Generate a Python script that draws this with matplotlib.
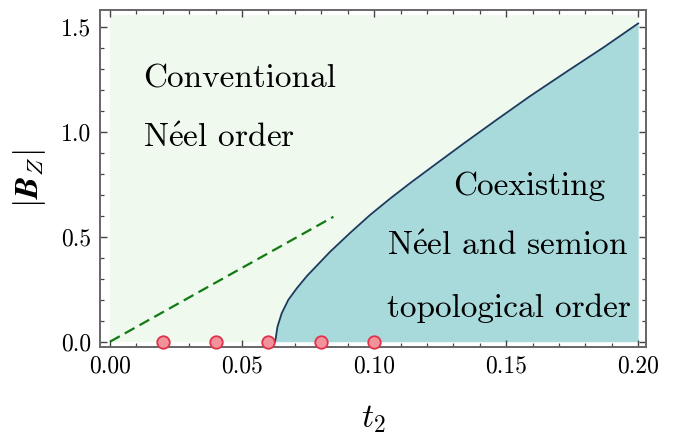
import matplotlib
matplotlib.use("Agg")
import matplotlib.pyplot as plt
from matplotlib.ticker import MultipleLocator

plt.rcParams['font.family'] = ['cmr10', 'DejaVu Serif']
plt.rcParams['mathtext.fontset'] = 'cm'
plt.rcParams['axes.formatter.use_mathtext'] = True
plt.rcParams['axes.unicode_minus'] = False

# phase boundary
t2_boundary = [0.0625, 0.0628, 0.0634, 0.0650, 0.0675, 0.0707, 0.0745, 0.0789,
               0.0833, 0.0909, 0.0985, 0.1061, 0.1136, 0.1212, 0.1338, 0.1465,
               0.1591, 0.1730, 0.1869, 0.2000]
bz_boundary = [0.0, 0.021, 0.071, 0.135, 0.199, 0.254, 0.312, 0.370,
               0.428, 0.518, 0.604, 0.682, 0.755, 0.826, 0.943, 1.058,
               1.170, 1.287, 1.402, 1.516]

# dashed guide line
t2_dashed = [0.0, 0.0846]
bz_dashed = [0.0, 0.595]

# sampled points on the t2 axis
t2_points = [0.02, 0.04, 0.06, 0.08, 0.10]
bz_points = [0.0, 0.0, 0.0, 0.0, 0.0]

t2_range = [0.0, 0.2]
bz_top = 1.556

fig = plt.figure(figsize=(6.73, 4.41), dpi=100)
ax = fig.add_axes([0.1486, 0.2138, 0.8114, 0.7635])

# light background for the conventional phase
ax.fill_between(t2_range, 0, bz_top, color='#eff9ee', lw=0, zorder=0)
# coexisting phase below the boundary
ax.fill_between(t2_boundary, 0, bz_boundary, color='#a8d9db', lw=0, zorder=1)
ax.plot(t2_boundary, bz_boundary, color='#1c3a5e', lw=1.3, zorder=2,
        solid_joinstyle='round')

ax.plot(t2_dashed, bz_dashed, color='#127a12', lw=1.6, ls=(0, (5, 2.6)), zorder=2)

ax.plot(t2_points, bz_points, 'o', ms=9, mfc='#f2939c', mec='#e0334b',
        mew=1.3, zorder=5, clip_on=False)

acute_e = r'$\mathrm{\acute{e}}$'
ax.text(0.0125, 1.213, 'Conventional', fontsize=24, va='baseline')
ax.text(0.0125, 0.927, 'N' + acute_e + 'el order', fontsize=24, va='baseline')
ax.text(0.13, 0.70, 'Coexisting', fontsize=24, va='baseline')
ax.text(0.1047, 0.413, 'N' + acute_e + 'el and semion', fontsize=24, va='baseline')
ax.text(0.1047, 0.119, 'topological order', fontsize=24, va='baseline')

ax.set_xlim(-0.0038, 0.2030)
ax.set_ylim(-0.024, 1.58)
ax.xaxis.set_minor_locator(MultipleLocator(0.01))
ax.yaxis.set_minor_locator(MultipleLocator(0.1))
ax.set_xticks([0.0, 0.05, 0.10, 0.15, 0.20])
ax.set_xticklabels(['0.00', '0.05', '0.10', '0.15', '0.20'])
ax.set_yticks([0.0, 0.5, 1.0, 1.5])
ax.set_yticklabels(['0.0', '0.5', '1.0', '1.5'])

ax.tick_params(which='both', direction='in', top=True, right=True,
               color='#444444', labelsize=17)
ax.tick_params(which='major', length=5, width=1.0, pad=6)
ax.tick_params(which='minor', length=3, width=0.9)
for s in ax.spines.values():
    s.set_color('#666666')
    s.set_linewidth(1.4)

ax.set_xlabel(r'$t_2$', fontsize=24, labelpad=19)
ax.set_ylabel(r'$|\boldsymbol{B}_Z|$', fontsize=24, labelpad=10)

fig.savefig('out.png', dpi=100)
